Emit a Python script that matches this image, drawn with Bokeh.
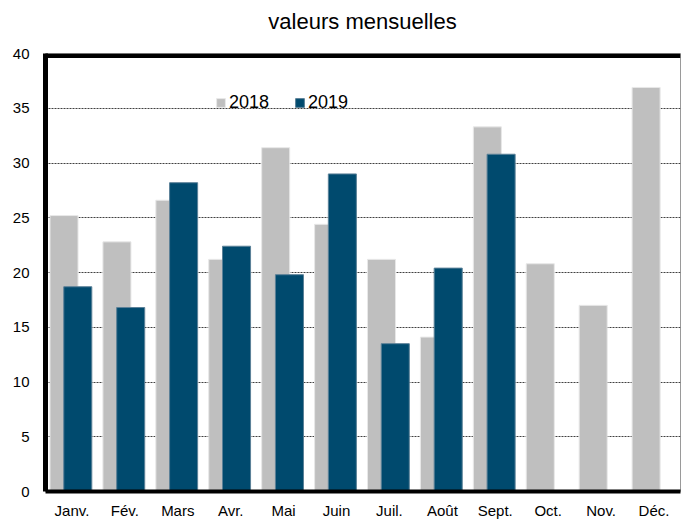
from bokeh.plotting import figure
from bokeh.models import ColumnDataSource, FactorRange, Range1d, BoxAnnotation, Legend, LegendItem, FixedTicker, Div
from bokeh.layouts import column
from bokeh.transform import dodge
from bokeh.embed import file_html
from bokeh.resources import INLINE

title_text = "valeurs mensuelles"
months = ["Janv.", "Fév.", "Mars", "Avr.", "Mai", "Juin", "Juil.", "Août", "Sept.", "Oct.", "Nov.", "Déc."]
v2018 = [25.2, 22.8, 26.6, 21.2, 31.4, 24.4, 21.2, 14.1, 33.3, 20.8, 17.0, 36.9]
v2019 = [18.7, 16.8, 28.2, 22.4, 19.8, 29.0, 13.5, 20.4, 30.8]
y_ticks = [0, 5, 10, 15, 20, 25, 30, 35, 40]

FONT = "Liberation Sans"
GRAY = "#bfbfbf"
BLUE = "#004a6e"

src18 = ColumnDataSource(dict(m=months, v=v2018))
src19 = ColumnDataSource(dict(m=months[:len(v2019)], v=v2019))

title_div = Div(text=title_text, width=681, height=44, margin=0,
                styles={"font-family": FONT, "font-size": "22px", "color": "black",
                        "text-align": "center", "padding-left": "44px", "box-sizing": "border-box",
                        "line-height": "44px"})

p = figure(width=681, height=477, x_range=FactorRange(*months), y_range=Range1d(0, 40),
           output_backend="svg", toolbar_location=None, margin=0,
           min_border_left=45, min_border_right=1, min_border_top=9, min_border_bottom=26)

r18 = p.vbar(x=dodge("m", -0.15, range=p.x_range), top="v", width=0.53, source=src18,
             fill_color=GRAY, line_color="#e8e8e8", line_width=1)
r19 = p.vbar(x=dodge("m", 0.11, range=p.x_range), top="v", width=0.53, source=src19,
             fill_color=BLUE, line_color="#5b8198", line_width=1)

p.xgrid.grid_line_color = None
p.ygrid.grid_line_color = "#404040"
p.ygrid.grid_line_dash = "2 1"
p.ygrid.grid_line_width = 1
p.yaxis.ticker = FixedTicker(ticks=y_ticks)

p.outline_line_color = "#9a9a9a"
p.outline_line_width = 1

p.yaxis.axis_line_width = 5
p.yaxis.axis_line_color = "black"
p.yaxis.major_tick_line_color = None
p.yaxis.minor_tick_line_color = None
p.yaxis.major_label_standoff = 10
p.yaxis.major_label_text_font = FONT
p.yaxis.major_label_text_font_size = "15px"
p.yaxis.major_label_text_color = "black"

p.xaxis.axis_line_width = 4
p.xaxis.axis_line_color = "black"
p.xaxis.major_tick_line_color = None
p.xaxis.minor_tick_line_color = None
p.xaxis.major_label_standoff = 4
p.xaxis.major_label_text_font = FONT
p.xaxis.major_label_text_font_size = "15px"
p.xaxis.major_label_text_color = "black"

# thick top border of the frame
p.add_layout(BoxAnnotation(bottom=39.6, fill_color="black", fill_alpha=1, line_color=None))

legend = Legend(items=[LegendItem(label="2018", renderers=[r18]), LegendItem(label="2019", renderers=[r19])],
                orientation="horizontal", location=(170, 378),
                background_fill_alpha=0, border_line_color=None,
                glyph_width=11, glyph_height=11, label_standoff=3, spacing=25,
                padding=0, margin=0,
                label_text_font=FONT, label_text_font_size="18px", label_text_color="black")
p.add_layout(legend)

layout = column(title_div, p, spacing=0, margin=0)
open("out.html", "w").write(file_html(layout, INLINE))
